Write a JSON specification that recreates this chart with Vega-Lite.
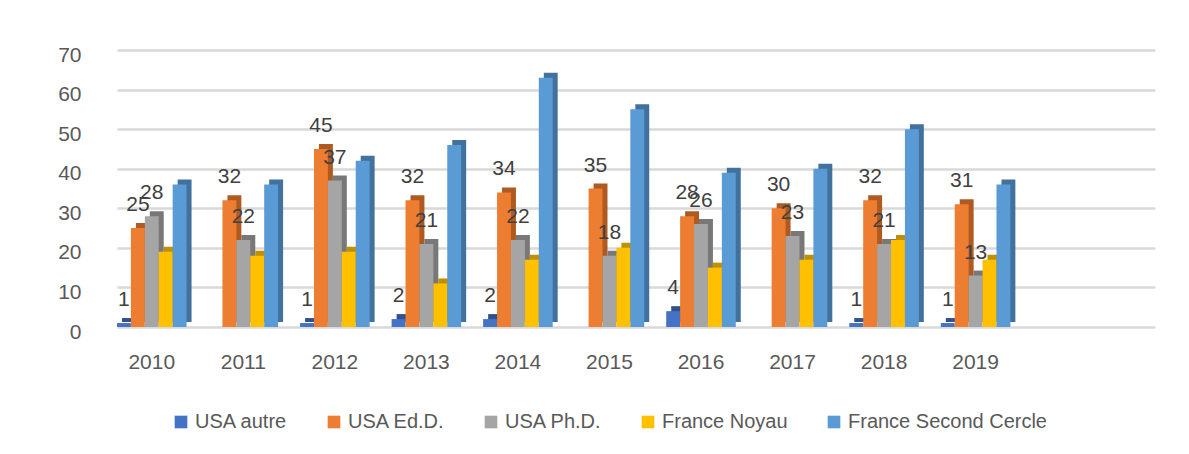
{
  "$schema": "https://vega.github.io/schema/vega-lite/v6.json",
  "width": 1038,
  "height": 277,
  "autosize": {"type": "none"},
  "padding": {"left": 117, "top": 50, "right": 34, "bottom": 127},
  "background": "white",
  "config": {"view": {"stroke": null}, "font": "Liberation Sans"},
  "data": {
    "values": [
      {"year": "2010", "series": "USA autre", "value": 1},
      {"year": "2010", "series": "USA Ed.D.", "value": 25},
      {"year": "2010", "series": "USA Ph.D.", "value": 28},
      {"year": "2010", "series": "France Noyau", "value": 19},
      {"year": "2010", "series": "France Second Cercle", "value": 36},
      {"year": "2011", "series": "USA autre", "value": 0},
      {"year": "2011", "series": "USA Ed.D.", "value": 32},
      {"year": "2011", "series": "USA Ph.D.", "value": 22},
      {"year": "2011", "series": "France Noyau", "value": 18},
      {"year": "2011", "series": "France Second Cercle", "value": 36},
      {"year": "2012", "series": "USA autre", "value": 1},
      {"year": "2012", "series": "USA Ed.D.", "value": 45},
      {"year": "2012", "series": "USA Ph.D.", "value": 37},
      {"year": "2012", "series": "France Noyau", "value": 19},
      {"year": "2012", "series": "France Second Cercle", "value": 42},
      {"year": "2013", "series": "USA autre", "value": 2},
      {"year": "2013", "series": "USA Ed.D.", "value": 32},
      {"year": "2013", "series": "USA Ph.D.", "value": 21},
      {"year": "2013", "series": "France Noyau", "value": 11},
      {"year": "2013", "series": "France Second Cercle", "value": 46},
      {"year": "2014", "series": "USA autre", "value": 2},
      {"year": "2014", "series": "USA Ed.D.", "value": 34},
      {"year": "2014", "series": "USA Ph.D.", "value": 22},
      {"year": "2014", "series": "France Noyau", "value": 17},
      {"year": "2014", "series": "France Second Cercle", "value": 63},
      {"year": "2015", "series": "USA autre", "value": 0},
      {"year": "2015", "series": "USA Ed.D.", "value": 35},
      {"year": "2015", "series": "USA Ph.D.", "value": 18},
      {"year": "2015", "series": "France Noyau", "value": 20},
      {"year": "2015", "series": "France Second Cercle", "value": 55},
      {"year": "2016", "series": "USA autre", "value": 4},
      {"year": "2016", "series": "USA Ed.D.", "value": 28},
      {"year": "2016", "series": "USA Ph.D.", "value": 26},
      {"year": "2016", "series": "France Noyau", "value": 15},
      {"year": "2016", "series": "France Second Cercle", "value": 39},
      {"year": "2017", "series": "USA autre", "value": 0},
      {"year": "2017", "series": "USA Ed.D.", "value": 30},
      {"year": "2017", "series": "USA Ph.D.", "value": 23},
      {"year": "2017", "series": "France Noyau", "value": 17},
      {"year": "2017", "series": "France Second Cercle", "value": 40},
      {"year": "2018", "series": "USA autre", "value": 1},
      {"year": "2018", "series": "USA Ed.D.", "value": 32},
      {"year": "2018", "series": "USA Ph.D.", "value": 21},
      {"year": "2018", "series": "France Noyau", "value": 22},
      {"year": "2018", "series": "France Second Cercle", "value": 50},
      {"year": "2019", "series": "USA autre", "value": 1},
      {"year": "2019", "series": "USA Ed.D.", "value": 31},
      {"year": "2019", "series": "USA Ph.D.", "value": 13},
      {"year": "2019", "series": "France Noyau", "value": 17},
      {"year": "2019", "series": "France Second Cercle", "value": 36}
    ]
  },
  "encoding": {
    "x": {
      "field": "year",
      "type": "nominal",
      "scale": {"paddingInner": 0.24, "paddingOuter": 0.79, "align": 0},
      "axis": {"title": null, "domain": false, "ticks": false, "labelAngle": 0, "labelFontSize": 21, "labelColor": "#595959", "labelPadding": 24}
    },
    "y": {
      "field": "value",
      "type": "quantitative",
      "scale": {"domain": [0, 70]},
      "axis": {"title": null, "values": [0, 10, 20, 30, 40, 50, 60, 70], "domain": false, "ticks": false, "grid": true, "gridColor": "#D9D9D9", "gridWidth": 2.5, "labelFontSize": 21, "labelColor": "#595959", "labelPadding": 36, "labelOffset": 5}
    }
  },
  "layer": [
    {
      "mark": {"type": "bar", "yOffset": -5},
      "encoding": {
        "xOffset": {
          "field": "series",
          "type": "nominal",
          "sort": ["USA autre", "USA Ed.D.", "USA Ph.D.", "France Noyau", "France Second Cercle"],
          "scale": {"paddingInner": 0, "paddingOuter": 0, "range": [5, 74.56]}
        },
        "color": {
          "field": "series",
          "type": "nominal",
          "scale": {
            "domain": ["USA autre", "USA Ed.D.", "USA Ph.D.", "France Noyau", "France Second Cercle"],
            "range": ["#2F528F", "#AE5A21", "#787878", "#BF9000", "#41719C"]
          },
          "legend": null
        }
      }
    },
    {
      "layer": [
        {
          "mark": {"type": "bar"},
          "encoding": {
            "color": {
              "field": "series",
              "type": "nominal",
              "sort": ["USA autre", "USA Ed.D.", "USA Ph.D.", "France Noyau", "France Second Cercle"],
              "scale": {
                "domain": ["USA autre", "USA Ed.D.", "USA Ph.D.", "France Noyau", "France Second Cercle"],
                "range": ["#4472C4", "#ED7D31", "#A5A5A5", "#FFC000", "#5B9BD5"]
              },
              "legend": {"orient": "bottom", "direction": "horizontal", "title": null, "symbolType": "square", "symbolSize": 160, "symbolStrokeWidth": 0, "labelFontSize": 20, "labelColor": "#595959", "labelLimit": 0, "columnPadding": 36, "offset": -14, "padding": 54}
            }
          }
        },
        {
          "transform": [{"filter": "datum.value > 0 && (datum.series == 'USA autre' || datum.series == 'USA Ed.D.' || datum.series == 'USA Ph.D.')"}],
          "mark": {"type": "text", "baseline": "bottom", "dy": -13, "fontSize": 21, "color": "#404040"},
          "encoding": {"text": {"field": "value", "type": "quantitative"}}
        }
      ],
      "encoding": {
        "xOffset": {
          "field": "series",
          "type": "nominal",
          "sort": ["USA autre", "USA Ed.D.", "USA Ph.D.", "France Noyau", "France Second Cercle"],
          "scale": {"paddingInner": 0, "paddingOuter": 0}
        }
      }
    }
  ],
  "resolve": {"scale": {"xOffset": "independent", "color": "independent"}, "legend": {"color": "independent"}}
}
